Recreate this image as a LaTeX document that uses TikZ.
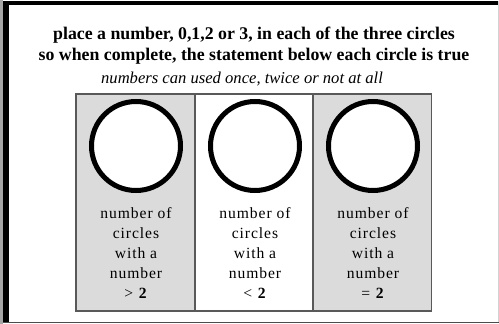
\documentclass[tikz,border=0pt]{standalone}
\usepackage{fontspec}
\setmainfont{Liberation Serif}
\newfontfamily\colfont[LetterSpace=6]{Liberation Serif}
\begin{document}
\begin{tikzpicture}[x=1pt,y=-1pt,
  ring/.style={circle,draw=black,fill=white,line width=5pt,minimum size=89pt,inner sep=0pt},
  coltext/.style={align=center,font=\colfont\fontsize{15.6}{19.8}\selectfont,inner sep=0pt}]
\useasboundingbox (0,0) rectangle (499,324);
\fill[white] (0,0) rectangle (499,324);
% frame
\fill[gray!70] (0,0) rectangle (3,324);
\fill[black] (3,1) rectangle (9,323);
\fill[black] (3,1) rectangle (498,5);
\draw[gray!35,line width=1pt] (498,1) -- (498,323);
\draw[black!70,line width=1.2pt] (3,322.6) -- (498.5,322.6);
% heading
\node[anchor=base,font=\bfseries\fontsize{17.8}{20}\selectfont,inner sep=0pt] (l1) at (254,39) {place a number, 0,1,2 or 3, in each of the three circles};
\node[anchor=base,font=\bfseries\fontsize{17.8}{20}\selectfont,inner sep=0pt] (l2) at (254,60) {so when complete, the statement below each circle is true};
\node[anchor=base,font=\itshape\fontsize{16.6}{18}\selectfont,inner sep=0pt] (l3) at (242,83) {numbers can used once, twice or not at all};
% columns
\foreach \x/\f/\op/\n in {76/gray!28/{>}/1,195/white/{<}/2,313/gray!28/{=}/3}{
  \fill[\f] (\x,94) rectangle (\x+118.5,311);
  \node[ring] (c\n) at (\x+60,146) {};
  \node[coltext,anchor=base] (t\n) at (\x+60,298) {number of\\circles\\with a\\number\\\op\ \textbf{2}};}
\draw[black!65,line width=1.5pt] (76,94) rectangle (431.5,311);
\draw[black!65,line width=1.5pt] (195,94) -- (195,311) (313,94) -- (313,311);
\end{tikzpicture}
\end{document}
